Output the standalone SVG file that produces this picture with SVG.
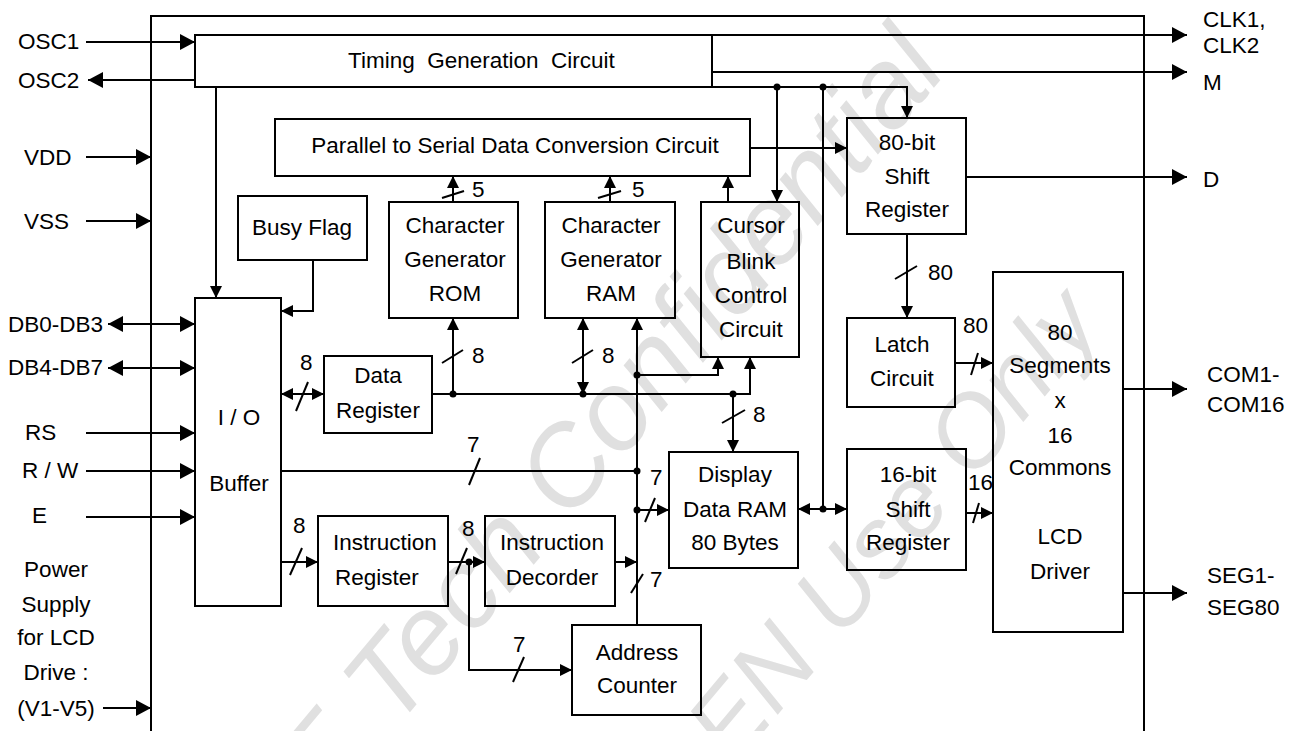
<svg xmlns="http://www.w3.org/2000/svg" width="1298" height="731" viewBox="0 0 1298 731">
<style>
.bn{fill:none;stroke:#000;stroke-width:2}
.w{fill:none;stroke:#000;stroke-width:2}
.s{fill:none;stroke:#000;stroke-width:2}
.t{font-family:"Liberation Sans",Arial,sans-serif;font-size:22.5px;fill:#000}
.m{text-anchor:middle}
.p{marker-end:url(#ap)}
.pp{marker-end:url(#ap);marker-start:url(#ap)}
.i{marker-end:url(#ai)}
.ii{marker-end:url(#ai);marker-start:url(#ai)}
.d{fill:#000}
.wm{font-family:"Liberation Sans",Arial,sans-serif;font-style:italic;fill:#e0e0e0}
</style>
<defs>
<marker id="ap" viewBox="0 0 15 16" refX="15" refY="8" markerWidth="15" markerHeight="16" markerUnits="userSpaceOnUse" orient="auto-start-reverse"><path d="M0,0 L15,8 L0,16 Z" fill="#000"/></marker>
<marker id="ai" viewBox="0 0 12 12" refX="12" refY="6" markerWidth="12" markerHeight="12" markerUnits="userSpaceOnUse" orient="auto-start-reverse"><path d="M0,0 L12,6 L0,12 Z" fill="#000"/></marker>
</defs>
<rect width="1298" height="731" fill="#fff"/>

<g id="watermark">
<text class="wm" transform="translate(327,811) rotate(-50)" style="font-size:112px">E Tech Confidential</text>
<text class="wm" transform="translate(733,768) rotate(-50)" style="font-size:100px">EN Use Only</text>
</g>

<g id="frame"><path class="w" d="M151,731 V16 H1144 V731"/></g>

<g id="timing"><rect class="bn" x="195" y="35" width="517" height="52"/><text class="t" x="348" y="68" xml:space="preserve" style="white-space:pre">Timing  Generation  Circuit</text></g>
<g id="p2s"><rect class="bn" x="275" y="119" width="475" height="57"/><text class="t m" x="515" y="153">Parallel to Serial Data Conversion Circuit</text></g>
<g id="busy"><rect class="bn" x="238" y="196" width="129" height="64"/><text class="t m" x="302" y="235">Busy Flag</text></g>
<g id="cgrom"><rect class="bn" x="389" y="202" width="129" height="116"/><text class="t m" x="455" y="233">Character</text><text class="t m" x="455" y="267">Generator</text><text class="t m" x="455" y="301">ROM</text></g>
<g id="cgram"><rect class="bn" x="545" y="202" width="130" height="116"/><text class="t m" x="611" y="233">Character</text><text class="t m" x="611" y="267">Generator</text><text class="t m" x="611" y="301">RAM</text></g>
<g id="cursor"><rect class="bn" x="701" y="202" width="98" height="155"/><text class="t m" x="751" y="233">Cursor</text><text class="t m" x="751" y="269">Blink</text><text class="t m" x="751" y="303">Control</text><text class="t m" x="751" y="337">Circuit</text></g>
<g id="sr80"><rect class="bn" x="847" y="118" width="119" height="116"/><text class="t m" x="907" y="150">80-bit</text><text class="t m" x="907" y="184">Shift</text><text class="t m" x="907" y="217">Register</text></g>
<g id="io"><rect class="bn" x="195" y="298" width="86" height="308"/><text class="t m" x="239" y="425">I / O</text><text class="t m" x="239" y="491">Buffer</text></g>
<g id="dreg"><rect class="bn" x="324" y="356" width="108" height="77"/><text class="t m" x="378" y="383">Data</text><text class="t m" x="378" y="418">Register</text></g>
<g id="latch"><rect class="bn" x="847" y="318" width="108" height="89"/><text class="t m" x="902" y="352">Latch</text><text class="t m" x="902" y="386">Circuit</text></g>
<g id="lcd"><rect class="bn" x="993" y="272" width="130" height="360"/><text class="t m" x="1060" y="340">80</text><text class="t m" x="1060" y="373">Segments</text><text class="t m" x="1060" y="408">x</text><text class="t m" x="1060" y="443">16</text><text class="t m" x="1060" y="475">Commons</text><text class="t m" x="1060" y="544">LCD</text><text class="t m" x="1060" y="579">Driver</text></g>
<g id="ddram"><rect class="bn" x="669" y="452" width="129" height="116"/><text class="t m" x="735" y="482">Display</text><text class="t m" x="735" y="517">Data RAM</text><text class="t m" x="735" y="550">80 Bytes</text></g>
<g id="sr16"><rect class="bn" x="847" y="449" width="119" height="121"/><text class="t m" x="908" y="482">16-bit</text><text class="t m" x="908" y="517">Shift</text><text class="t m" x="908" y="550">Register</text></g>
<g id="ir"><rect class="bn" x="318" y="516" width="130" height="90"/><text class="t" x="333" y="550">Instruction</text><text class="t" x="335" y="585">Register</text></g>
<g id="id"><rect class="bn" x="485" y="516" width="130" height="90"/><text class="t m" x="552" y="550">Instruction</text><text class="t m" x="552" y="585">Decorder</text></g>
<g id="ac"><rect class="bn" x="572" y="625" width="129" height="90"/><text class="t m" x="637" y="660">Address</text><text class="t m" x="637" y="693">Counter</text></g>

<g id="connectors">
<path class="w p" d="M86,42 H195"/>
<path class="w p" d="M195,80 H88"/>
<path class="w p" d="M86,157 H151"/>
<path class="w p" d="M86,221 H151"/>
<path class="w p" d="M103,708 H151"/>
<path class="w pp" d="M108,324 H195"/>
<path class="w pp" d="M108,368 H195"/>
<path class="w p" d="M86,433 H195"/>
<path class="w p" d="M86,471 H195"/>
<path class="w p" d="M86,517 H195"/>
<path class="w p" d="M712,35 H1187"/>
<path class="w p" d="M712,72 H1187"/>
<path class="w i" d="M712,87 H907 V118"/>
<path class="w i" d="M777,87 V202"/>
<path class="w" d="M823,87 V509"/>
<path class="w p" d="M966,177 H1187"/>
<path class="w i" d="M750,148 H847"/>
<path class="w i" d="M453,202 V176"/>
<path class="w i" d="M610,202 V176"/>
<path class="w i" d="M728,202 V176"/>
<path class="w i" d="M216,87 V298"/>
<path class="w i" d="M313,260 V311 H281"/>
<path class="w ii" d="M281,394 H324"/>
<path class="w i" d="M432,394 H750 V357"/>
<path class="w i" d="M453,394 V318"/>
<path class="w ii" d="M583,394 V318"/>
<path class="w i" d="M733,394 V452"/>
<path class="w i" d="M637,625 V318"/>
<path class="w i" d="M637,375 H718 V357"/>
<path class="w" d="M281,471 H637"/>
<path class="w i" d="M637,510 H669"/>
<path class="w i" d="M615,562 H637"/>
<path class="w i" d="M281,562 H318"/>
<path class="w i" d="M448,562 H485"/>
<path class="w i" d="M469,562 V670 H572"/>
<path class="w ii" d="M798,509 H847"/>
<path class="w i" d="M907,234 V318"/>
<path class="w i" d="M955,363 H993"/>
<path class="w i" d="M966,513 H993"/>
<path class="w p" d="M1123,389 H1187"/>
<path class="w p" d="M1123,593 H1187"/>
<circle class="d" cx="777" cy="87" r="3.5"/>
<circle class="d" cx="823" cy="87" r="3.5"/>
<circle class="d" cx="453" cy="394" r="3.5"/>
<circle class="d" cx="583" cy="394" r="3.5"/>
<circle class="d" cx="733" cy="394" r="3.5"/>
<circle class="d" cx="637" cy="375" r="3.5"/>
<circle class="d" cx="637" cy="471" r="3.5"/>
<circle class="d" cx="637" cy="510" r="3.5"/>
<circle class="d" cx="469" cy="562" r="3.5"/>
<circle class="d" cx="823" cy="509" r="3.5"/>
<path class="s" d="M296,411 L308,382"/>
<path class="s" d="M442,363 L463,350"/>
<path class="s" d="M572,363 L593,350"/>
<path class="s" d="M722,423 L745,410"/>
<path class="s" d="M442,198 L464,191"/>
<path class="s" d="M598,198 L621,191"/>
<path class="s" d="M469,485 L480,458"/>
<path class="s" d="M645,522 L655,498"/>
<path class="s" d="M631,593 L643,574"/>
<path class="s" d="M456,574 L467,548"/>
<path class="s" d="M290,575 L302,548"/>
<path class="s" d="M513,682 L524,657"/>
<path class="s" d="M895,279 L917,266"/>
<path class="s" d="M971,375 L978,353"/>
<path class="s" d="M973,523 L979,503"/>
<text class="t" x="300" y="370">8</text>
<text class="t" x="472" y="197">5</text>
<text class="t" x="632" y="197">5</text>
<text class="t" x="472" y="363">8</text>
<text class="t" x="602" y="363">8</text>
<text class="t" x="753" y="422">8</text>
<text class="t" x="467" y="452">7</text>
<text class="t" x="650" y="485">7</text>
<text class="t" x="650" y="587">7</text>
<text class="t" x="293" y="533">8</text>
<text class="t" x="462" y="536">8</text>
<text class="t" x="513" y="652">7</text>
<text class="t" x="928" y="280">80</text>
<text class="t" x="963" y="333">80</text>
<text class="t" x="968" y="490">16</text>
</g>

<g id="pins">
<text class="t" x="18" y="49">OSC1</text>
<text class="t" x="18" y="88">OSC2</text>
<text class="t" x="24" y="165">VDD</text>
<text class="t" x="24" y="229">VSS</text>
<text class="t" x="8" y="332">DB0-DB3</text>
<text class="t" x="8" y="375">DB4-DB7</text>
<text class="t" x="25" y="440">RS</text>
<text class="t" x="22" y="478">R / W</text>
<text class="t" x="32" y="523">E</text>
<text class="t m" x="56" y="577">Power</text>
<text class="t m" x="56" y="612">Supply</text>
<text class="t m" x="56" y="645">for LCD</text>
<text class="t m" x="56" y="680">Drive :</text>
<text class="t m" x="56" y="716">(V1-V5)</text>
<text class="t" x="1203" y="27">CLK1,</text>
<text class="t" x="1203" y="53">CLK2</text>
<text class="t" x="1203" y="90">M</text>
<text class="t" x="1203" y="187">D</text>
<text class="t" x="1207" y="382">COM1-</text>
<text class="t" x="1207" y="412">COM16</text>
<text class="t" x="1207" y="583">SEG1-</text>
<text class="t" x="1207" y="615">SEG80</text>
</g>
</svg>
